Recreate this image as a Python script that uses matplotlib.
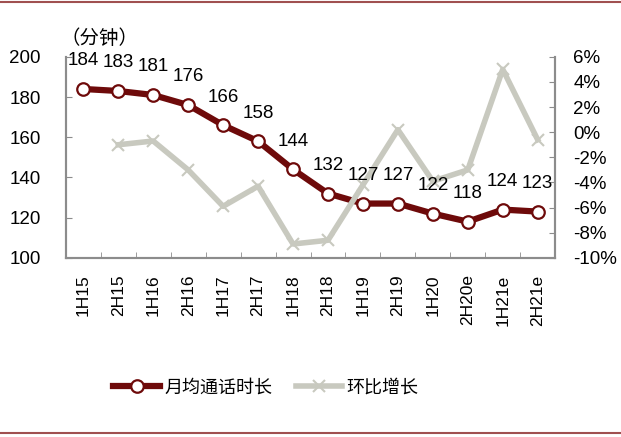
import matplotlib
matplotlib.use("Agg")
import matplotlib.pyplot as plt
from matplotlib.lines import Line2D
from matplotlib.ticker import FuncFormatter, FixedLocator
import numpy as np

plt.rcParams["font.family"] = ["Liberation Sans", "Noto Sans CJK SC", "DejaVu Sans"]

categories = ["1H15", "2H15", "1H16", "2H16", "1H17", "2H17", "1H18", "2H18",
              "1H19", "2H19", "1H20", "2H20e", "1H21e", "2H21e"]
minutes = [184, 183, 181, 176, 166, 158, 144, 132, 127, 127, 122, 118, 124, 123]
# 环比增长 (%), first half-year has no value
qoq = [np.nan, -1.0, -0.7, -3.0, -5.9, -4.3, -8.9, -8.6, -4.2, 0.2, -3.9, -3.0, 5.0, -0.6]

RED = "#6e0a0a"
GRAY = "#c8c9bf"
AXC = "#8c8c8c"

fig = plt.figure(figsize=(6.21, 4.37), dpi=100)
ax = fig.add_axes([0.106, 0.410, 0.788, 0.460])
ax2 = ax.twinx()
x = np.arange(len(categories))

ax.plot(x, minutes, color=RED, lw=4.5, marker="o", ms=9, mfc="white",
        mec=RED, mew=1.6, zorder=3)
ax2.plot(x, qoq, color=GRAY, lw=4, marker="x", ms=9, mew=1.5, zorder=3)

# data labels (drawn above both series)
for xi, v in zip(x, minutes):
    ax2.text(xi, v + 14, str(v), transform=ax.transData, ha="center",
             va="center", fontsize=13.5, color="black", zorder=5)

ax.set_xlim(-0.5, len(categories) - 0.5)
ax.set_ylim(100, 200)
ax.set_yticks(range(100, 201, 20))
ax2.set_ylim(-10, 6)
ax2.set_yticks(range(-10, 7, 2))
ax2.yaxis.set_major_formatter(FuncFormatter(lambda v, p: f"{v:.0f}%"))

ax.set_xticks(x)
ax.set_xticklabels(categories, rotation=90, fontsize=12.5)
ax.xaxis.set_minor_locator(FixedLocator(np.arange(0.5, len(categories) - 1, 1)))
ax.tick_params(axis="x", which="major", length=0, pad=12)
ax.tick_params(axis="x", which="minor", direction="in", length=4, color=AXC)
ax.tick_params(axis="y", direction="in", length=4, color=AXC, labelsize=13.5, pad=18)
ax2.tick_params(axis="y", direction="in", length=4, color=AXC, labelsize=13.5, pad=13)

for a in (ax, ax2):
    a.spines["top"].set_visible(False)
    for s in ("left", "right", "bottom"):
        a.spines[s].set_color(AXC)
        a.spines[s].set_linewidth(1.5)

fig.text(0.098, 0.912, "（分钟）", fontsize=14, ha="left", va="center",
         family=["Noto Sans CJK SC", "DejaVu Sans"])

handles = [
    Line2D([], [], color=RED, lw=4.5, marker="o", ms=9, mfc="white", mec=RED, mew=1.6),
    Line2D([], [], color=GRAY, lw=4, marker="x", ms=9, mew=1.5),
]
fig.legend(handles, ["月均通话时长", "环比增长"], loc="center", ncol=2,
           bbox_to_anchor=(0.428, 0.113), frameon=False, handlelength=2.6,
           columnspacing=1.3, handletextpad=0.2,
           prop={"family": ["Noto Sans CJK SC", "DejaVu Sans"], "size": 13})

# thin rules at top and bottom of the figure
fig.add_artist(Line2D([0, 1], [0.996, 0.996], color="#a05050", lw=1.5))
fig.add_artist(Line2D([0, 1], [0.009, 0.009], color="#a05050", lw=1.5))

fig.savefig("out.png", dpi=100)
